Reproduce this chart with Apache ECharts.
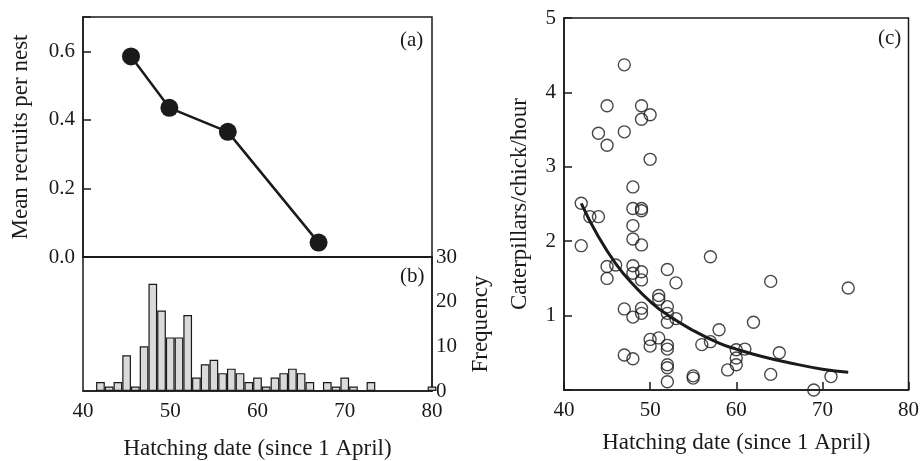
<!DOCTYPE html>
<html>
<head>
<meta charset="utf-8">
<title>Hatching date</title>
<script src="https://cdn.jsdelivr.net/npm/echarts@6/dist/echarts.min.js"></script>
<style>
  html, body { margin: 0; padding: 0; background: #fff; }
  #chart { width: 922px; height: 461px; }
</style>
</head>
<body>
<div id="chart"></div>
<script>
// (a) mean recruits per nest
var recruitDate = [45.5, 49.9, 56.6, 67.0];
var recruitMean = [0.585, 0.435, 0.365, 0.042];

// (b) hatching date frequency, 1-day bins
var binDate = [42, 43, 44, 45, 46, 47, 48, 49, 50, 51, 52, 53, 54, 55, 56, 57, 58, 59, 60, 61,
               62, 63, 64, 65, 66, 67, 68, 69, 70, 71, 72, 73, 80];
var binCount = [2, 1, 2, 8, 1, 10, 24, 18, 12, 12, 17, 3, 6, 7, 4, 5, 4, 2, 3, 1,
                3, 4, 5, 4, 2, 0, 2, 1, 3, 1, 0, 2, 1];

// (c) caterpillars per chick per hour
var nestDate = [47, 45, 49, 49, 50, 44, 47, 45, 50, 48, 42, 43, 44, 48, 49, 49, 48, 48, 49, 42,
                45, 46, 45, 48, 48, 49, 49, 52, 53, 57, 51, 51, 52, 52, 52, 53, 47, 48, 49, 49,
                50, 50, 51, 52, 52, 47, 48, 52, 52, 52, 55, 55, 56, 57, 58, 59, 64, 73, 62, 60,
                60, 60, 61, 65, 64, 71, 69];
var nestRate = [4.37, 3.82, 3.82, 3.64, 3.70, 3.45, 3.47, 3.29, 3.10, 2.73, 2.51, 2.33, 2.33, 2.44, 2.44, 2.41, 2.21, 2.03, 1.95, 1.94,
                1.66, 1.68, 1.50, 1.67, 1.57, 1.59, 1.48, 1.62, 1.44, 1.79, 1.27, 1.22, 1.12, 1.03, 0.91, 0.96, 1.09, 0.98, 1.10, 1.03,
                0.68, 0.59, 0.70, 0.60, 0.55, 0.47, 0.42, 0.34, 0.30, 0.11, 0.19, 0.16, 0.61, 0.65, 0.81, 0.27, 1.46, 1.37, 0.91, 0.54,
                0.43, 0.34, 0.55, 0.50, 0.21, 0.18, 0.00];

// fitted curve
var fitDate = [42, 44, 46, 48, 50, 52, 55, 58, 60, 63, 66, 70, 73];
var fitRate = [2.51, 2.06, 1.70, 1.42, 1.19, 1.01, 0.80, 0.63, 0.55, 0.45, 0.37, 0.28, 0.24];

function pairs(xs, ys) {
  return xs.map(function (x, i) { return [x, ys[i]]; });
}

var font = 'Liberation Serif';
var ink = '#1a1a1a';
var labelStyle = { color: ink, fontFamily: font, fontSize: 21 };
var nameStyle = { color: ink, fontFamily: font, fontSize: 23 };
var lineStyle = { color: ink, width: 1.5 };

var chart = echarts.init(document.getElementById('chart'));
chart.setOption({
  animation: false,
  backgroundColor: '#fff',
  grid: [
    { left: 83, top: 17, width: 349, height: 240, show: true, borderColor: ink, borderWidth: 1.5 },
    { left: 83, top: 257, width: 349, height: 135, show: true, borderColor: ink, borderWidth: 1.5 },
    { left: 564, top: 18, width: 346, height: 372, show: true, borderColor: ink, borderWidth: 1.5 }
  ],
  xAxis: [
    {
      gridIndex: 0, type: 'value', min: 40, max: 80, interval: 10,
      axisLine: { lineStyle: lineStyle }, axisTick: { show: false },
      axisLabel: { show: false }, splitLine: { show: false }
    },
    {
      gridIndex: 1, type: 'value', min: 40, max: 80, interval: 10,
      axisLine: { lineStyle: lineStyle }, axisTick: { show: false },
      axisLabel: Object.assign({ margin: 10 }, labelStyle), splitLine: { show: false },
      name: 'Hatching date (since 1 April)', nameLocation: 'middle', nameGap: 46,
      nameTextStyle: nameStyle
    },
    {
      gridIndex: 2, type: 'value', min: 40, max: 80, interval: 10,
      axisLine: { lineStyle: lineStyle },
      axisTick: { inside: true, length: 8, lineStyle: lineStyle },
      axisLabel: Object.assign({ margin: 10 }, labelStyle), splitLine: { show: false },
      name: 'Hatching date (since 1 April)', nameLocation: 'middle', nameGap: 41,
      nameTextStyle: nameStyle
    }
  ],
  yAxis: [
    {
      gridIndex: 0, type: 'value', min: 0, max: 0.7, interval: 0.2,
      axisLine: { lineStyle: lineStyle },
      axisTick: { inside: true, length: 8, lineStyle: lineStyle },
      axisLabel: Object.assign({
        margin: 8,
        formatter: function (v) { return v > 0.65 ? '' : v.toFixed(1); }
      }, labelStyle),
      splitLine: { show: false },
      name: 'Mean recruits per nest', nameLocation: 'middle', nameRotate: 90, nameGap: 51,
      nameTextStyle: nameStyle
    },
    {
      gridIndex: 1, type: 'value', position: 'right', min: 0, max: 30, interval: 10,
      axisLine: { lineStyle: lineStyle }, axisTick: { show: false },
      axisLabel: Object.assign({ margin: 4 }, labelStyle), splitLine: { show: false },
      name: 'Frequency', nameLocation: 'middle', nameRotate: 90, nameGap: 37,
      nameTextStyle: nameStyle
    },
    {
      gridIndex: 2, type: 'value', min: 0, max: 5, interval: 1,
      axisLine: { lineStyle: lineStyle },
      axisTick: { inside: true, length: 8, lineStyle: lineStyle },
      axisLabel: Object.assign({
        margin: 8,
        formatter: function (v) { return v === 0 ? '' : String(v); }
      }, labelStyle),
      splitLine: { show: false },
      name: 'Caterpillars/chick/hour', nameLocation: 'middle', nameRotate: 90, nameGap: 33,
      nameTextStyle: nameStyle
    }
  ],
  graphic: [
    { type: 'text', left: 400, top: 30, style: { text: '(a)', fill: ink, font: '21px "Liberation Serif"' } },
    { type: 'text', left: 400, top: 266, style: { text: '(b)', fill: ink, font: '21px "Liberation Serif"' } },
    { type: 'text', left: 878, top: 28, style: { text: '(c)', fill: ink, font: '21px "Liberation Serif"' } }
  ],
  series: [
    {
      type: 'line', xAxisIndex: 0, yAxisIndex: 0,
      data: pairs(recruitDate, recruitMean),
      symbol: 'circle', symbolSize: 18,
      lineStyle: { color: ink, width: 2.5 },
      itemStyle: { color: ink }
    },
    {
      type: 'bar', xAxisIndex: 1, yAxisIndex: 1,
      data: pairs(binDate, binCount),
      barWidth: 8.7,
      itemStyle: { color: '#dadada', borderColor: ink, borderWidth: 1.2 }
    },
    {
      type: 'scatter', xAxisIndex: 2, yAxisIndex: 2,
      data: pairs(nestDate, nestRate),
      symbol: 'circle', symbolSize: 12,
      itemStyle: { color: 'rgba(255,255,255,0)', borderColor: ink, borderWidth: 1.4 }
    },
    {
      type: 'line', xAxisIndex: 2, yAxisIndex: 2,
      data: pairs(fitDate, fitRate),
      smooth: true, symbol: 'none',
      lineStyle: { color: ink, width: 3 }
    }
  ]
});
</script>
</body>
</html>
